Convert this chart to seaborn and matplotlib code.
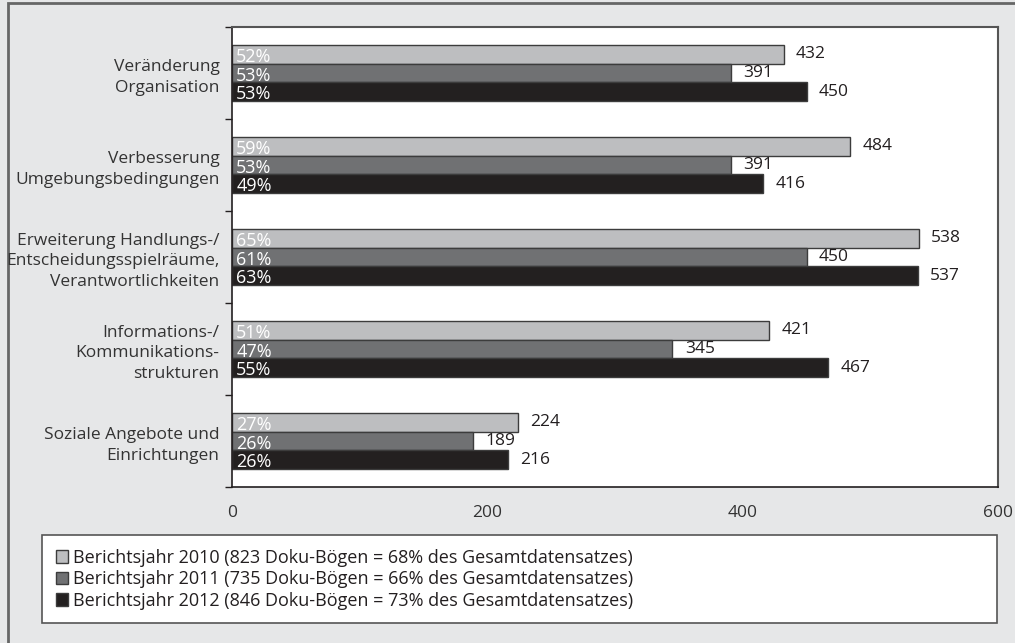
import pandas as pd
import matplotlib.pyplot as plt
import seaborn as sns
from matplotlib.patches import Rectangle
from matplotlib.ticker import FixedLocator

categories = ['Veränderung\nOrganisation',
              'Verbesserung\nUmgebungsbedingungen',
              'Erweiterung Handlungs-/\nEntscheidungsspielräume,\nVerantwortlichkeiten',
              'Informations-/\nKommunikations-\nstrukturen',
              'Soziale Angebote und\nEinrichtungen']
years = ['Berichtsjahr 2010 (823 Doku-Bögen = 68% des Gesamtdatensatzes)',
         'Berichtsjahr 2011 (735 Doku-Bögen = 66% des Gesamtdatensatzes)',
         'Berichtsjahr 2012 (846 Doku-Bögen = 73% des Gesamtdatensatzes)']
values_2010 = [432, 484, 538, 421, 224]
values_2011 = [391, 391, 450, 345, 189]
values_2012 = [450, 416, 537, 467, 216]
pct_2010 = [52, 59, 65, 51, 27]
pct_2011 = [53, 53, 61, 47, 26]
pct_2012 = [53, 49, 63, 55, 26]
xticks = [0, 200, 400, 600]

colors = ['#bdbec0', '#707173', '#231f20']

rows = []
for yr, vals, pcts in zip(years, [values_2010, values_2011, values_2012],
                          [pct_2010, pct_2011, pct_2012]):
    for c, v, p in zip(categories, vals, pcts):
        rows.append({'Kategorie': c, 'Jahr': yr, 'Anzahl': v, 'Prozent': p})
df = pd.DataFrame(rows)

sns.set_style('white')
plt.rcParams['font.family'] = ['Open Sans', 'DejaVu Sans']
fs = 12.5

fig = plt.figure(figsize=(10.15, 6.43), dpi=100, facecolor='#e6e7e8')
ax = fig.add_axes([232/1015, 1-487/643, (998-232)/1015, (487-27)/643])
ax.set_facecolor('white')

sns.barplot(data=df, y='Kategorie', x='Anzahl', hue='Jahr', palette=colors,
            orient='h', width=0.61, edgecolor='#3c3c3c', linewidth=1,
            ax=ax, legend=True)

# labels
for cont, yr in zip(ax.containers, years):
    sub = df[df['Jahr'] == yr]
    ax.bar_label(cont, labels=[str(v) for v in sub['Anzahl']], padding=9,
                 fontsize=fs, color='#231f20')
    for bar, p in zip(cont, sub['Prozent']):
        cy = bar.get_y() + bar.get_height() / 2
        ax.annotate(f'{p}%', xy=(0, cy), xytext=(3, -2), textcoords='offset points',
                    ha='left', va='center', color='white', fontsize=13)

ax.set_xlim(0, 600)
ax.set_ylim(4.5, -0.5)
ax.set_xticks(xticks)
ax.set_xlabel('')
ax.set_ylabel('')
ax.tick_params(axis='x', length=5, width=1, color='#231f20', labelsize=fs,
               labelcolor='#333333', pad=8, direction='out')
ax.tick_params(axis='y', which='major', length=0, labelsize=fs,
               labelcolor='#333333', pad=9)
ax.yaxis.set_minor_locator(FixedLocator([-0.5, 0.5, 1.5, 2.5, 3.5, 4.5]))
ax.tick_params(axis='y', which='minor', length=5, width=1, color='#231f20',
               direction='out', left=True)
for lbl in ax.get_yticklabels():
    lbl.set_linespacing(1.4)
    lbl.set_horizontalalignment('right')
for side in ['top', 'right']:
    ax.spines[side].set_color('#555555')
    ax.spines[side].set_linewidth(1.5)
for side in ['left', 'bottom']:
    ax.spines[side].set_color('#231f20')
    ax.spines[side].set_linewidth(1.2)

handles, labels = ax.get_legend_handles_labels()
ax.get_legend().remove()
leg = fig.legend(handles, labels, loc='upper left',
                 bbox_to_anchor=(42/1015, 1-627/643, (997-42)/1015, 92/643),
                 mode='expand', fancybox=False, frameon=True, fontsize=13,
                 handlelength=0.7, handleheight=0.7, handletextpad=0.25,
                 labelspacing=0.2, borderaxespad=0, borderpad=0.75)
leg.get_frame().set_edgecolor('#555555')
leg.get_frame().set_facecolor('white')
leg.get_frame().set_alpha(1)
leg.get_frame().set_linewidth(1.2)
for t in leg.get_texts():
    t.set_color('#231f20')

# outer frame
fig.patches.append(Rectangle((8/1015, -0.1), 1.2, 1 - 3/643 + 0.1,
                             transform=fig.transFigure, fill=False,
                             edgecolor='#666666', linewidth=2, zorder=-1))

fig.savefig('out.png', dpi=100, facecolor=fig.get_facecolor())
